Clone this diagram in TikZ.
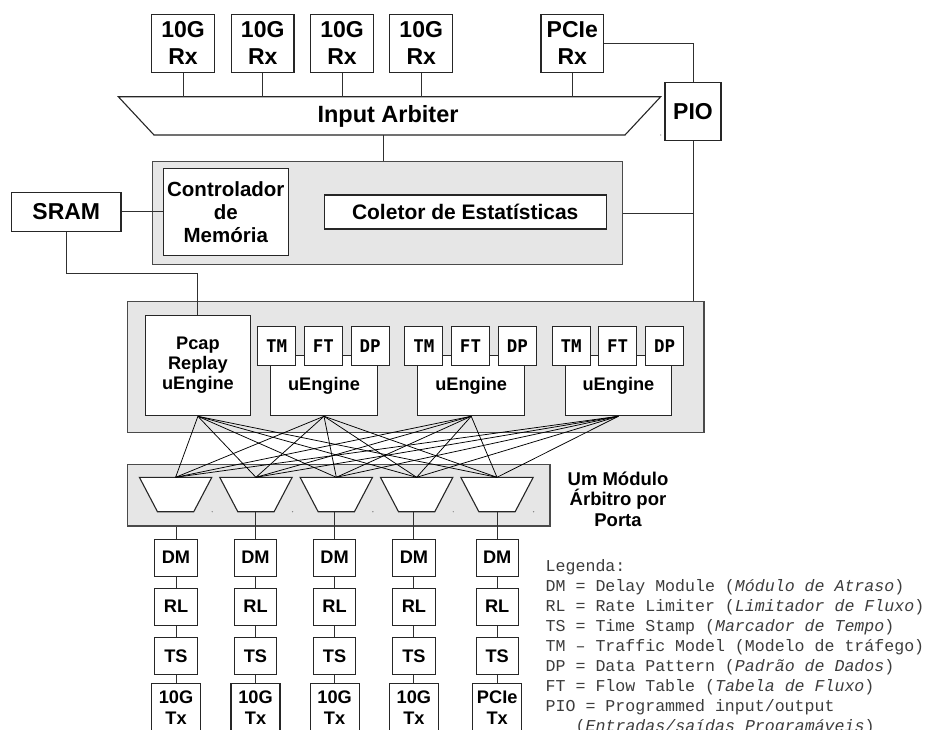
\documentclass[tikz,border=0pt]{standalone}
\usepackage{fontspec}
\setmainfont{Liberation Sans}
\newfontfamily\legfont{Liberation Mono}
\newfontfamily\tagfont{DejaVu Sans Mono}
\usetikzlibrary{calc}

\definecolor{panel}{HTML}{E6E6E6}
\definecolor{paneledge}{HTML}{4A4A4A}
\definecolor{edge}{HTML}{262626}
\definecolor{wire}{HTML}{303030}
\definecolor{legendink}{HTML}{3C3C3C}

\begin{document}
\begin{tikzpicture}[x=1pt,y=-1pt,
  panelbox/.style={draw=paneledge, fill=panel, line width=1.2pt, inner sep=0pt},
  blk/.style={draw=edge, fill=white, line width=1.1pt, inner sep=0pt, align=center},
  bigtxt/.style={font=\bfseries\fontsize{23}{26.7}\selectfont},
  midtxt/.style={font=\bfseries\fontsize{18.2}{20}\selectfont},
  tagbox/.style={blk, minimum width=38, minimum height=38.3,
                 font=\tagfont\bfseries\fontsize{17.5}{20}\selectfont},
  stagebox/.style={blk, midtxt, minimum width=42.3, minimum height=36.7},
  txbox/.style={blk, font=\bfseries\fontsize{18.2}{21}\selectfont, minimum width=49, minimum height=47.4},
  wire/.style={draw=wire, line width=0.9pt},
  fan/.style={draw=black, line width=0.75pt},
  legendline/.style={anchor=base west, inner sep=0pt, text=legendink,
                     font=\legfont\fontsize{16.6}{20}\selectfont},
  speck/.style={fill=gray}
]
\clip (0,0) rectangle (939,729);
\fill[white] (0,0) rectangle (939,729);

% ---- grey panels ----
\node[panelbox, minimum width=470.4, minimum height=102.6] (stats) at (387.5,213) {};
\node[panelbox, minimum width=576.7, minimum height=131] (engines) at (415.7,367.2) {};
\node[panelbox, minimum width=422.7, minimum height=61.7] (outarb) at (338.7,495.2) {};

% ---- receive ports ----
\foreach \n/\x/\t in {rx1/183/10G, rx2/262.7/10G, rx3/342/10G, rx4/421.2/10G, rx5/572.3/PCIe}
  \node[blk, bigtxt, minimum width=62.6, minimum height=58] (\n) at (\x,43.3) {\t\\Rx};

% ---- input arbiter ----
\coordinate (ia-tl) at (118.3,96.7);
\coordinate (ia-tr) at (660.7,96.7);
\coordinate (ia-br) at (625,135);
\coordinate (ia-bl) at (154,135);
\draw[draw=edge, line width=1.1pt, fill=white] (ia-tl) -- (ia-tr) -- (ia-br) -- (ia-bl) -- cycle;
\node[font=\bfseries\fontsize{23.5}{27}\selectfont, inner sep=0pt] (ia) at (388,116) {Input Arbiter};
\coordinate (ia-out) at (383,135);
\fill[speck] (ia-tr |- ia-br) circle (0.7);

\node[blk, bigtxt, minimum width=56, minimum height=58] (pio) at (693,111.7) {PIO};

% ---- memory and statistics ----
\node[blk, bigtxt, minimum width=109.3, minimum height=38.7] (sram) at (66.3,211.7) {SRAM};
\node[blk, font=\bfseries\fontsize{20.5}{23}\selectfont, minimum width=125, minimum height=86.7]
  (ctrl) at (225.8,211.7) {Controlador\\de\\Memória};
\node[blk, font=\bfseries\fontsize{21}{24}\selectfont, minimum width=281.7, minimum height=34]
  (coll) at (465.2,212) {Coletor de Estatísticas};

% ---- engines ----
\node[blk, midtxt, minimum width=104.3, minimum height=100.7] (pcap) at (197.9,365.4) {Pcap\\Replay\\uEngine};
\foreach \k in {0,1,2} {
  \pgfmathsetmacro\cx{324+147.2*\k}
  \node[blk, midtxt, minimum width=106.6, minimum height=60] (ue\k) at (\cx,385.7) {uEngine};
  \node[tagbox] (tm\k) at (\cx-47.3,345.9) {TM};
  \node[tagbox] (ft\k) at (\cx-0.7,345.9) {FT};
  \node[tagbox] (dp\k) at (\cx+46.2,345.9) {DP};
}

% ---- per-port output arbiters ----
\foreach \i/\cx in {1/175.6, 2/255.95, 3/336.3, 4/416.65, 5/497} {
  \draw[draw=edge, line width=1.1pt, fill=white]
    (\cx-36.2,477.3) -- (\cx+36.2,477.3) -- (\cx+18.15,511.7) -- (\cx-18.15,511.7) -- cycle;
  \coordinate (mux\i-in) at (\cx,477.3);
  \coordinate (mux\i-out) at (\cx,511.7);
  \fill[speck] (\cx+36.6,511.7) circle (0.7);
}
\node[font=\bfseries\fontsize{18.5}{20.5}\selectfont, align=center, inner sep=0pt]
  (muxnote) at (618,499) {Um Módulo\\Árbitro por\\Porta};

% ---- output chains ----
\foreach \i/\cx/\tx in {1/176/10G, 2/255.5/10G, 3/334.6/10G, 4/413.9/10G, 5/497.2/PCIe} {
  \node[stagebox] (dm\i) at (\cx,557.7) {DM};
  \node[stagebox] (rl\i) at (\cx,606.7) {RL};
  \node[stagebox] (ts\i) at (\cx,656.2) {TS};
  \node[txbox, anchor=north] (tx\i) at (\cx,683.3) {\tx\\Tx};
  \draw[wire] (dm\i.south) -- (rl\i.north) (rl\i.south) -- (ts\i.north) (ts\i.south) -- (tx\i.north);
}
\draw[wire] (dm1.north |- outarb.south) -- (dm1.north);
\foreach \i in {2,...,5}
  \draw[wire] (dm\i.north |- mux\i-out) -- (dm\i.north);

% ---- connectors ----
\foreach \n in {rx1,rx2,rx3,rx4,rx5}
  \draw[wire] (\n.south) -- (\n.south |- ia-tl);
\draw[wire] (ia-out) -- (ia-out |- stats.north);
\draw[wire] (rx5.east) -| (pio.north);
\coordinate (tap) at (pio.south |- stats.east);
\draw[wire] (pio.south) -- (tap) -- (stats.east);
\draw[wire] (tap) -- (tap |- engines.north);
\draw[wire] (sram) -- (ctrl);
\draw[wire] (sram.south) -- ++(0,42.3) -| (pcap.north);

\foreach \s in {pcap,ue0,ue1,ue2}
  \foreach \i in {1,...,5}
    \draw[fan] (\s.south) -- (mux\i-in);

% ---- legend ----
\node[legendline] (leg0) at (545.5,571.7) {Legenda:};
\node[legendline] (leg1) at (545.5,591.7) {DM = Delay Module (\textit{Módulo de Atraso})};
\node[legendline] (leg2) at (545.5,611.7) {RL = Rate Limiter (\textit{Limitador de Fluxo})};
\node[legendline] (leg3) at (545.5,631.7) {TS = Time Stamp (\textit{Marcador de Tempo})};
\node[legendline] (leg4) at (545.5,651.7) {TM – Traffic Model (Modelo de tráfego)};
\node[legendline] (leg5) at (545.5,671.7) {DP = Data Pattern (\textit{Padrão de Dados})};
\node[legendline] (leg6) at (545.5,691.7) {FT = Flow Table (\textit{Tabela de Fluxo})};
\node[legendline] (leg7) at (545.5,711.7) {PIO = Programmed input/output};
\node[legendline] (leg8) at (575.5,731.7) {(\textit{Entradas/saídas Programáveis})};
\end{tikzpicture}
\end{document}
